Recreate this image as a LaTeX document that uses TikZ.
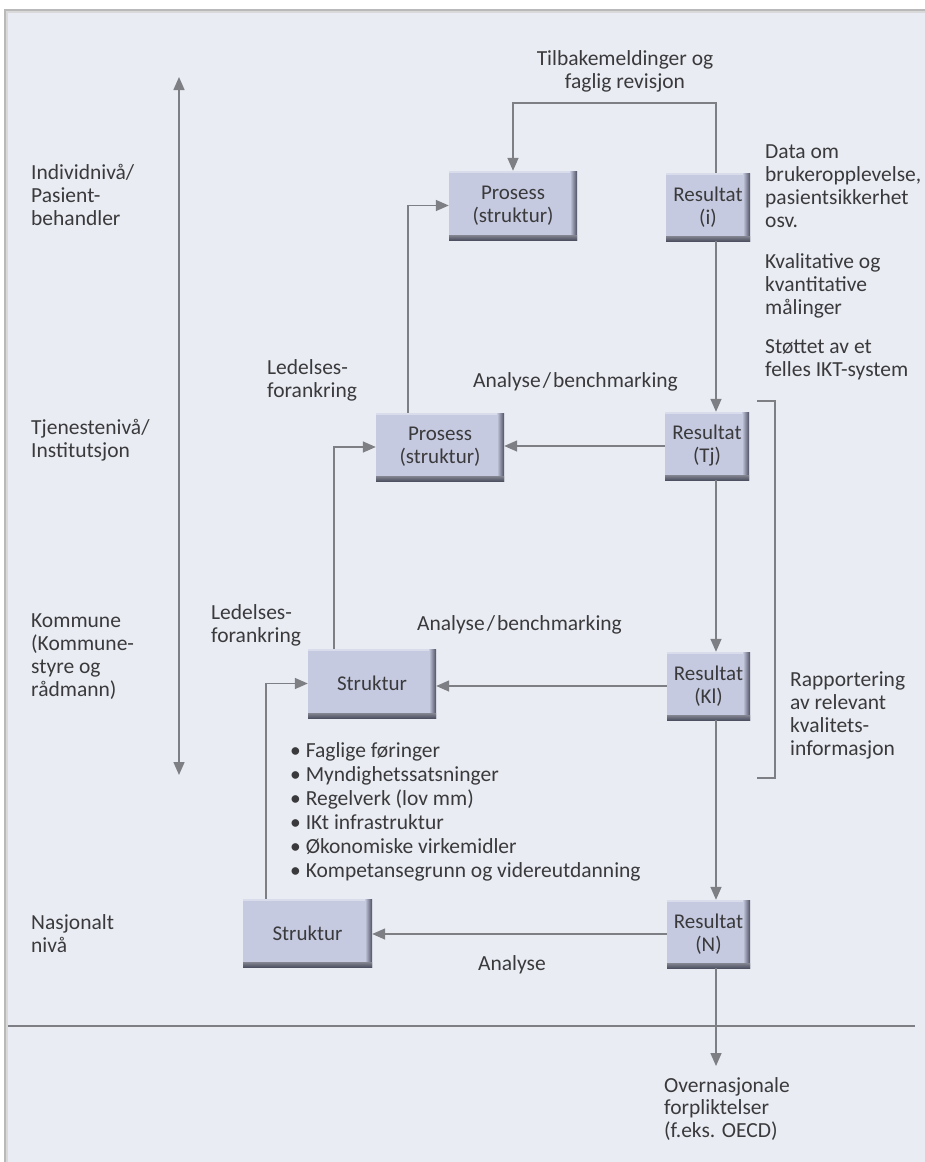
\documentclass[tikz,border=0pt]{standalone}
\usepackage{fontspec}
\setmainfont{Carlito}
\usetikzlibrary{arrows.meta,calc}
\definecolor{bgc}{HTML}{E9ECF3}
\definecolor{boxc}{HTML}{C6CAE0}
\definecolor{bevc}{HTML}{4E5162}
\definecolor{linec}{HTML}{7E7F84}
\definecolor{txtc}{HTML}{3A3A3C}
\tikzset{
  lbl/.style={inner sep=0pt, text=txtc, font=\fontsize{21.5}{23}\selectfont, align=left, anchor=base west},
  lblc/.style={lbl, align=center, anchor=base},
  bevbox/.style={inner sep=0pt, fill=boxc, text=txtc, align=center,
    font=\fontsize{21}{23}\selectfont,
    path picture={
      \fill[white, opacity=0.35] (path picture bounding box.north west) rectangle ([yshift=-2pt]path picture bounding box.north east);
      \shade[left color=boxc, right color=bevc]
        ([xshift=-7pt]path picture bounding box.north east) rectangle (path picture bounding box.south east);
      \shade[top color=bevc!70, bottom color=bevc]
        (path picture bounding box.south west) rectangle ([yshift=5pt]path picture bounding box.south east);
    }},
  conn/.style={draw=linec, line width=1.5pt},
  arr/.style={conn, -{Triangle[length=13pt,width=11pt]}},
  darr/.style={conn, {Triangle[length=13pt,width=11pt]}-{Triangle[length=13pt,width=11pt]}}
}
\begin{document}
\begin{tikzpicture}[x=1pt,y=-1pt]
\useasboundingbox (0,0) rectangle (925,1162);
\fill[white] (0,0) rectangle (925,1162);
\fill[gray!55] (4,9) rectangle (930,1170);
\fill[gray!30] (6,11) rectangle (930,1170);
\fill[bgc] (8,13) rectangle (930,1170);

% boxes
\node[bevbox, minimum width=128pt, minimum height=69pt] (P1) at (513,205.5) {Prosess\\(struktur)};
\node[bevbox, minimum width=84pt, minimum height=68pt] (Ri) at (708,207) {Resultat\\(i)};
\node[bevbox, minimum width=128pt, minimum height=68pt] (P2) at (440,447) {Prosess\\(struktur)};
\node[bevbox, minimum width=84pt, minimum height=68pt] (Rtj) at (707,446) {Resultat\\(Tj)};
\node[bevbox, minimum width=128pt, minimum height=69pt] (S1) at (372,683.5) {Struktur};
\node[bevbox, minimum width=83pt, minimum height=68pt] (Rkl) at (708.5,686) {Resultat\\(Kl)};
\node[bevbox, minimum width=129pt, minimum height=68pt] (S2) at (307.5,933) {Struktur};
\node[bevbox, minimum width=83pt, minimum height=68pt] (Rn) at (708.5,934) {Resultat\\(N)};

% coordinates
\coordinate (col) at (716,0);
\coordinate (fbtop) at (716,103);
\coordinate (lefttop) at (179,77);
\coordinate (leftbot) at (179,775);
\coordinate (brA) at (757,401);
\coordinate (brB) at (775,401);
\coordinate (brC) at (775,778);
\coordinate (brD) at (757,778);
\coordinate (divL) at (8,1026);
\coordinate (divR) at (915,1026);
\coordinate (ovtip) at (716,1066);
\coordinate (c408) at (408,0);
\coordinate (c334) at (334,0);
\coordinate (c266) at (266,0);

% connectors
\draw[darr] (leftbot) -- (lefttop);
\draw[arr] (Ri.north -| col) -- (fbtop) -| (P1.north);
\draw[arr] (Ri.south -| col) -- (Rtj.north -| col);
\draw[arr] (Rtj.south -| col) -- (Rkl.north -| col);
\draw[arr] (Rkl.south -| col) -- (Rn.north -| col);
\draw[arr] (Rn.south -| col) -- (ovtip);
\draw[arr] (Rtj.west) -- (Rtj.west -| P2.east);
\draw[arr] (Rkl.west) -- (Rkl.west -| S1.east);
\draw[arr] (Rn.west) -- (Rn.west -| S2.east);
\draw[arr] (P2.north -| c408) |- (P1.west);
\draw[arr] (S1.north -| c334) |- (P2.west);
\draw[arr] (S2.north -| c266) |- (S1.west);
\draw[conn] (brA) -- (brB) -- (brC) -- (brD);
\draw[conn] (divL) -- (divR);

% labels (base anchor = baseline of the last line)
\node[lblc] (tb) at (625,88) {Tilbakemeldinger og\\faglig revisjon};
\node[lbl] (d1) at (765,227) {Data om\\brukeropplevelse,\\pasientsikkerhet\\osv.};
\node[lbl] (d2) at (765,314) {Kvalitative og\\kvantitative\\målinger};
\node[lbl] (d3) at (765,376) {Støttet av et\\felles IKT-system};
\node[lbl] (l1) at (31,225) {Individnivå/\\Pasient-\\behandler};
\node[lbl] (l2) at (31,457) {Tjenestenivå/\\Institutsjon};
\node[lbl] (l3) at (31,696) {Kommune\\(Kommune-\\styre og\\rådmann)};
\node[lbl] (l4) at (31,952) {Nasjonalt\\nivå};
\node[lbl] (lf1) at (267,397) {Ledelses-\\forankring};
\node[lbl] (ab1) at (473,387) {Analyse\kern2pt/\kern2pt benchmarking};
\node[lbl] (lf2) at (211,642) {Ledelses-\\forankring};
\node[lbl] (ab2) at (417,630) {Analyse\kern2pt/\kern2pt benchmarking};
\node[lblc] (an) at (512,970) {Analyse};
\node[lbl] (rap) at (790,755) {Rapportering\\av relevant\\kvalitets-\\informasjon};
\node[lbl, font=\fontsize{21.5}{24}\selectfont] (bul) at (290,877) {• Faglige føringer\\• Myndighetssatsninger\\• Regelverk (lov mm)\\• IKt infrastruktur\\• Økonomiske virkemidler\\• Kompetansegrunn og videreutdanning};
\node[lbl, font=\fontsize{21.5}{22.5}\selectfont] (ov) at (664,1137) {Overnasjonale\\forpliktelser\\(f.eks. OECD)};
\end{tikzpicture}
\end{document}
